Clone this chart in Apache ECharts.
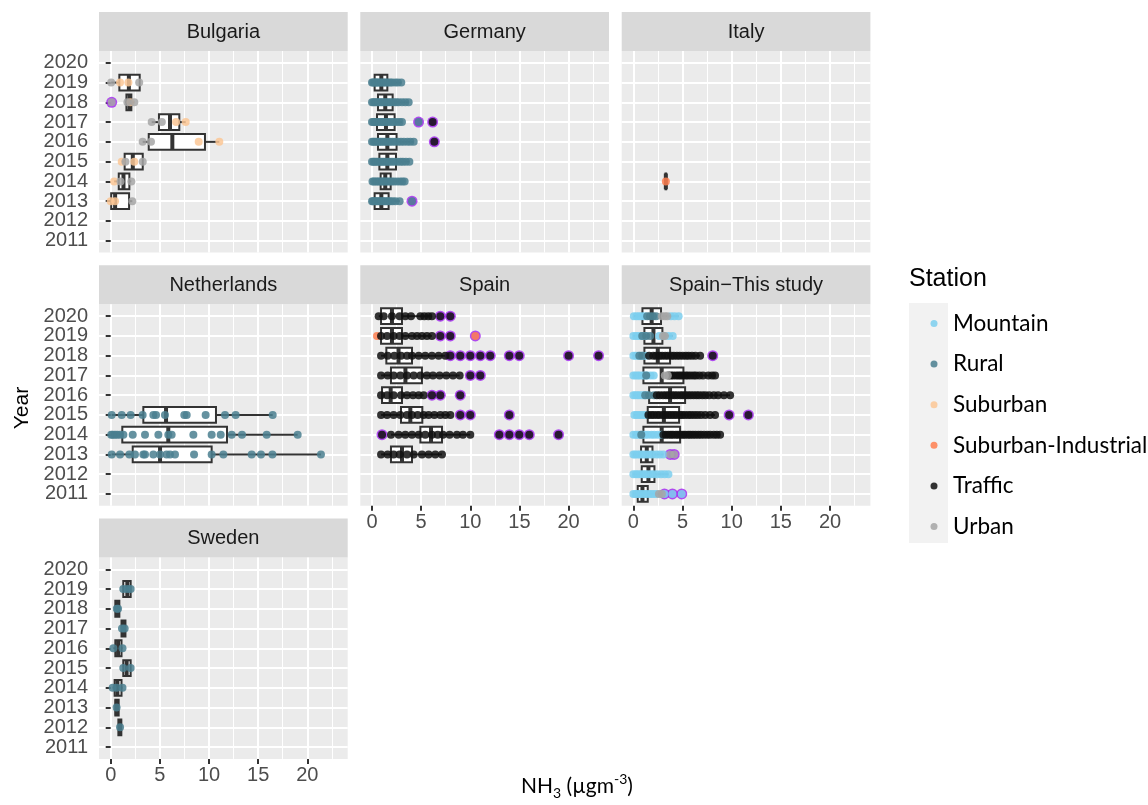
<!DOCTYPE html>
<html>
<head>
<meta charset="utf-8">
<script src="https://cdn.jsdelivr.net/npm/echarts@6/dist/echarts.min.js"></script>
<style>
  html, body { margin: 0; padding: 0; background: #ffffff; }
  #chart { width: 1148px; height: 805px; }
</style>
</head>
<body>
<div id="chart"></div>
<script>
// ---------- axis values ----------
const years = [2011, 2012, 2013, 2014, 2015, 2016, 2017, 2018, 2019, 2020];
const xTicks = [0, 5, 10, 15, 20];
const xMinorTicks = [2.5, 7.5, 12.5, 17.5, 22.5];
const stations = ['Mountain', 'Rural', 'Suburban', 'Suburban-Industrial', 'Traffic', 'Urban'];

// ---------- box statistics: [year, whiskerLow, q1, median, q3, whiskerHigh] ----------
const bulgariaBox = [
  [2019, 0.05, 0.88, 1.85, 2.95, 2.95],
  [2018, 1.5, 1.6, 1.9, 2.1, 2.4],
  [2017, 4.17, 4.91, 6.03, 6.98, 7.63],
  [2016, 3.25, 3.87, 6.27, 9.59, 11.05],
  [2015, 1.12, 1.42, 2.25, 3.26, 3.26],
  [2014, 0.35, 0.82, 1.3, 1.9, 2.1],
  [2013, 0.0, 0.05, 0.45, 1.87, 2.2]
];
const germanyBox = [
  [2019, 0.0, 0.27, 0.95, 1.56, 2.98],
  [2018, 0.0, 0.61, 1.35, 2.1, 3.73],
  [2017, 0.0, 0.51, 1.42, 2.3, 3.05],
  [2016, 0.0, 0.61, 1.56, 2.5, 4.24],
  [2015, 0.0, 0.75, 1.56, 2.44, 3.8],
  [2014, 0.05, 0.88, 1.35, 1.9, 3.32],
  [2013, 0.0, 0.27, 0.95, 1.69, 2.81]
];
const italyBox = [
  [2014, 3.3, 3.27, 3.3, 3.33, 3.3]
];
const netherlandsBox = [
  [2015, 0.1, 3.32, 5.63, 10.71, 16.48],
  [2014, 0.05, 1.18, 5.86, 11.83, 19.02],
  [2013, 0.1, 2.24, 5.02, 10.27, 21.39]
];
const spainBox = [
  [2020, 0.68, 0.92, 2.03, 3.05, 6.1],
  [2019, 0.51, 0.92, 2.03, 3.05, 6.1],
  [2018, 0.92, 1.46, 2.7, 4.07, 7.46],
  [2017, 0.92, 1.93, 3.4, 5.08, 8.92],
  [2016, 0.92, 1.02, 1.9, 3.05, 5.25],
  [2015, 0.92, 2.95, 3.9, 5.12, 7.97],
  [2014, 1.93, 4.92, 6.0, 7.12, 10.0],
  [2013, 0.92, 1.93, 3.05, 4.07, 7.12]
];
const thisStudyBox = [
  [2020, 0.05, 0.92, 1.86, 2.81, 4.6],
  [2019, 0.0, 1.12, 2.04, 2.95, 4.0],
  [2018, 0.0, 1.12, 2.48, 3.73, 6.79],
  [2017, 0.0, 1.02, 2.88, 5.09, 8.31],
  [2016, 0.0, 1.6, 3.73, 5.26, 9.84],
  [2015, 0.1, 1.46, 3.1, 4.65, 8.31],
  [2014, 0.0, 1.02, 2.88, 4.75, 8.82],
  [2013, 0.0, 0.78, 1.36, 1.94, 3.05],
  [2012, 0.0, 0.85, 1.53, 2.14, 3.56],
  [2011, 0.0, 0.44, 0.92, 1.46, 2.9]
];
const swedenBox = [
  [2019, 1.28, 1.28, 1.69, 2.03, 2.03],
  [2018, 0.47, 0.47, 0.68, 0.88, 0.88],
  [2017, 1.1, 1.1, 1.29, 1.5, 1.5],
  [2016, 0.27, 0.47, 0.75, 1.1, 1.2],
  [2015, 1.28, 1.28, 1.62, 2.03, 2.03],
  [2014, 0.2, 0.4, 0.68, 1.1, 1.2],
  [2013, 0.47, 0.47, 0.61, 0.81, 0.81],
  [2012, 0.78, 0.78, 0.95, 1.08, 1.08]
];

// ---------- station measurements: [year, value, value, ...] ----------
const bulgariaUrban = [
  [2019, 0.05, 2.9], [2018, 0.1, 1.7, 2.4], [2017, 4.17, 5.2], [2016, 3.25, 4.1],
  [2015, 1.5, 3.26], [2014, 1.0, 2.1], [2013, 2.2]
];
const bulgariaSuburban = [
  [2019, 0.95, 1.8], [2018, 2.0], [2017, 6.65, 7.63], [2016, 8.95, 11.05],
  [2015, 1.12, 2.4], [2014, 0.35], [2013, 0.0, 0.44]
];
const germanyRural = [
  [2019, 0.0, 0.12, 0.25, 0.38, 0.5, 0.62, 0.8, 0.95, 1.1, 1.28, 1.45, 1.62, 1.85, 2.05, 2.37, 2.64, 2.98],
  [2018, 0.0, 0.15, 0.3, 0.48, 0.65, 0.82, 1.0, 1.18, 1.35, 1.55, 1.75, 1.95, 2.2, 2.45, 2.7, 3.05, 3.39, 3.73],
  [2017, 0.0, 0.14, 0.3, 0.45, 0.6, 0.78, 0.95, 1.12, 1.3, 1.48, 1.7, 1.95, 2.2, 2.5, 2.8, 3.05, 4.74],
  [2016, 0.0, 0.15, 0.32, 0.5, 0.68, 0.85, 1.05, 1.25, 1.45, 1.65, 1.85, 2.1, 2.35, 2.65, 2.95, 3.25, 3.6, 3.9, 4.24],
  [2015, 0.0, 0.15, 0.3, 0.48, 0.66, 0.84, 1.02, 1.2, 1.4, 1.6, 1.8, 2.05, 2.3, 2.6, 2.9, 3.15, 3.45, 3.8],
  [2014, 0.05, 0.2, 0.38, 0.55, 0.72, 0.9, 1.08, 1.25, 1.42, 1.6, 1.8, 2.0, 2.25, 2.55, 2.85, 3.1, 3.32],
  [2013, 0.0, 0.1, 0.22, 0.35, 0.5, 0.65, 0.8, 0.95, 1.1, 1.28, 1.45, 1.65, 1.85, 2.1, 2.4, 2.81, 4.07]
];
const germanyTraffic = [[2017, 6.17], [2016, 6.34]];
const italySuburbanIndustrial = [[2014, 3.3]];
const netherlandsRural = [
  [2015, 0.1, 1.12, 2.03, 3.25, 4.34, 4.61, 5.52, 7.49, 7.73, 9.66, 11.63, 12.71, 16.48],
  [2014, 0.05, 0.2, 0.44, 0.67, 0.95, 1.29, 2.24, 3.49, 4.85, 5.86, 6.2, 8.41, 10.27, 11.19, 12.31, 13.36, 15.87, 19.02],
  [2013, 0.1, 0.95, 1.9, 2.47, 3.32, 3.49, 4.34, 5.02, 5.69, 6.03, 6.54, 8.48, 10.27, 11.46, 14.34, 15.29, 16.45, 21.39]
];
const spainTraffic = [
  [2020, 0.68, 1.19, 2.03, 2.81, 3.39, 3.97, 4.92, 5.32, 5.73, 6.1, 6.95, 7.97],
  [2019, 0.92, 1.53, 2.2, 2.81, 3.39, 4.07, 4.58, 5.08, 5.59, 6.1, 6.95, 7.97],
  [2018, 0.92, 1.59, 2.27, 2.95, 3.56, 4.07, 4.75, 5.42, 6.1, 6.78, 7.46, 7.97, 8.98, 10.0, 11.02, 12.03, 13.97, 14.98, 20.0, 23.05],
  [2017, 0.92, 1.59, 2.2, 2.88, 3.56, 4.24, 4.92, 5.59, 6.2, 6.88, 7.56, 8.24, 8.92, 10.0, 11.02],
  [2016, 0.92, 1.53, 2.2, 2.95, 3.56, 4.17, 4.75, 5.25, 6.1, 6.95, 8.98],
  [2015, 0.92, 1.53, 2.2, 2.88, 3.56, 4.07, 4.65, 5.25, 5.76, 6.34, 6.95, 7.46, 7.97, 8.98, 10.0, 13.97],
  [2014, 1.02, 1.93, 2.71, 3.39, 4.07, 4.75, 5.42, 6.1, 6.68, 7.22, 7.9, 8.64, 9.25, 10.0, 12.95, 13.97, 14.98, 16.0, 18.98],
  [2013, 0.92, 1.59, 2.2, 2.81, 3.56, 4.24, 5.08, 5.76, 6.44, 7.12]
];
const spainSuburbanIndustrial = [[2019, 0.51, 10.51]];
const thisStudyMountain = [
  [2020, 0.05, 0.32, 0.58, 0.83, 1.12, 3.82, 4.18, 4.6],
  [2019, 0.0, 0.27, 0.52, 0.84, 1.19, 2.62, 3.08, 3.57, 4.0],
  [2018, 0.0, 0.22, 0.46, 0.73, 0.98, 1.31],
  [2017, 0.0, 0.21, 0.44, 0.63, 0.91, 1.17, 1.43, 1.76, 2.07],
  [2016, 0.0, 0.19, 0.41, 0.6, 0.86, 1.08, 1.36],
  [2015, 0.1, 0.33, 0.56, 0.79, 1.04, 1.32],
  [2014, 0.0, 0.24, 0.46, 0.71, 0.93, 1.22, 1.48, 1.83, 2.12, 2.47, 2.85],
  [2013, 0.0, 0.18, 0.43, 0.66, 0.88, 1.16, 1.41, 1.72, 1.98, 2.36, 2.69, 3.05],
  [2012, 0.0, 0.26, 0.49, 0.77, 1.02, 1.24, 1.53, 1.81, 2.09, 2.44, 2.82, 3.18, 3.56],
  [2011, 0.0, 0.21, 0.39, 0.62, 0.81, 1.06, 1.29, 1.57, 1.82, 2.08, 2.36, 3.16, 3.97, 4.92]
];
const thisStudyRural = [
  [2020, 1.4, 1.7, 2.0, 2.3], [2019, 0.9, 1.3, 1.7], [2018, 0.6, 0.9],
  [2017, 1.3], [2016, 1.2, 1.6, 2.1], [2014, 0.8]
];
const thisStudyUrban = [
  [2020, 2.9, 3.2, 3.45], [2019, 3.0, 3.2], [2017, 3.2, 3.5], [2013, 3.75, 4.15], [2011, 2.6, 2.9]
];
const thisStudyTraffic = [
  [2018, 1.6, 2.02, 2.31, 2.66, 2.93, 3.24, 3.52, 3.86, 4.12, 4.43, 4.71, 5.03, 5.34, 5.62, 5.96, 6.31, 6.79, 8.07],
  [2017, 3.56, 3.81, 4.04, 4.33, 4.57, 4.79, 5.02, 5.31, 5.54, 5.82, 6.12, 6.36, 6.71, 7.08, 7.62, 8.01, 8.31],
  [2016, 2.38, 2.69, 3.02, 3.31, 3.58, 3.92, 4.19, 4.46, 4.77, 5.01, 5.28, 5.56, 5.83, 6.12, 6.41, 6.68, 7.02, 7.33, 7.71, 8.18, 8.62, 9.21, 9.84],
  [2015, 1.53, 1.82, 2.09, 2.41, 2.68, 3.03, 3.28, 3.57, 3.84, 4.12, 4.39, 4.72, 4.96, 5.24, 5.57, 5.86, 6.19, 6.52, 6.88, 7.31, 7.79, 8.31, 9.74, 11.7],
  [2014, 3.05, 3.29, 3.56, 3.81, 4.03, 4.32, 4.54, 4.82, 5.06, 5.28, 5.57, 5.79, 6.06, 6.32, 6.61, 6.88, 7.19, 7.52, 7.81, 8.18, 8.49, 8.82]
];
const swedenRural = [
  [2019, 1.28, 1.69, 2.03], [2018, 0.62, 0.75], [2017, 1.15, 1.42], [2016, 0.27, 1.2],
  [2015, 1.28, 2.03], [2014, 0.2, 0.61, 1.2], [2013, 0.6], [2012, 0.95]
];

// ---------- panels ----------
const panels = [
  { title: 'Bulgaria', col: 0, row: 0, xLabels: false, box: bulgariaBox,
    points: { Suburban: bulgariaSuburban, Urban: bulgariaUrban } },
  { title: 'Germany', col: 1, row: 0, xLabels: false, box: germanyBox,
    points: { Rural: germanyRural, Traffic: germanyTraffic } },
  { title: 'Italy', col: 2, row: 0, xLabels: false, box: italyBox,
    points: { 'Suburban-Industrial': italySuburbanIndustrial } },
  { title: 'Netherlands', col: 0, row: 1, xLabels: false, box: netherlandsBox,
    points: { Rural: netherlandsRural } },
  { title: 'Spain', col: 1, row: 1, xLabels: true, box: spainBox,
    points: { 'Suburban-Industrial': spainSuburbanIndustrial, Traffic: spainTraffic } },
  { title: 'Spain\u2212This study', col: 2, row: 1, xLabels: true, box: thisStudyBox,
    points: { Mountain: thisStudyMountain, Rural: thisStudyRural, Traffic: thisStudyTraffic, Urban: thisStudyUrban } },
  { title: 'Sweden', col: 0, row: 2, xLabels: true, box: swedenBox,
    points: { Rural: swedenRural } }
];

// ---------- styling & layout ----------
const COLORS = {
  'Mountain': '#7dcfee',
  'Rural': '#4a7f8f',
  'Suburban': '#fcc795',
  'Suburban-Industrial': '#ff7f50',
  'Traffic': '#111111',
  'Urban': '#a6a6a6'
};
const OUTLIER_COLOR = '#a020f0';
const BOX_COLOR = '#333333';
const COL_LEFT = [99, 360.3, 621.7];
const ROW_TOP = [51, 304.3, 557.4];
const PANEL_W = 248.7;
const PANEL_H = 201.5;
const STRIP_H = 39;
const X_MIN = -1.19, X_MAX = 24.11;
const Y_MIN = 2010.4, Y_MAX = 2020.6;
const BOX_HEIGHT = 0.8;
const TICK_FONT = 'Liberation Sans, Arial, sans-serif';
const NOTE_FONT = 'Lato, sans-serif';

// year labels are split over two stacked axes so neighbouring labels never collide
const oddYears = years.filter((y, k) => k % 2 === 0);
const evenYears = years.filter((y, k) => k % 2 === 1);

const grids = [], xAxes = [], yAxes = [], series = [], graphics = [];

function flatten(rows) {
  const out = [];
  rows.forEach(r => { for (let k = 1; k < r.length; k++) out.push([r[k], r[0]]); });
  return out;
}

function yearAxis(gridIndex, show, values) {
  return {
    type: 'value', gridIndex, min: Y_MIN, max: Y_MAX, position: 'left', offset: 0,
    axisLine: { show: false },
    axisTick: { show, customValues: values, length: 5, lineStyle: { color: BOX_COLOR, width: 2 } },
    axisLabel: { show, customValues: values, margin: 11, color: '#4d4d4d', fontSize: 20,
      fontFamily: TICK_FONT, formatter: v => String(v), showMinLabel: true, showMaxLabel: true },
    splitLine: { show: true, lineStyle: { color: '#ffffff', width: 2 } }
  };
}

panels.forEach((p, i) => {
  const left = COL_LEFT[p.col], top = ROW_TOP[p.row];
  const showY = p.col === 0;
  grids.push({ left, top, width: PANEL_W, height: PANEL_H, show: true,
    backgroundColor: '#ebebeb', borderWidth: 0 });

  xAxes.push({
    type: 'value', gridIndex: i, min: X_MIN, max: X_MAX, position: 'bottom',
    axisLine: { show: false },
    axisTick: { show: p.xLabels, customValues: xTicks, length: 5, lineStyle: { color: BOX_COLOR, width: 2 } },
    axisLabel: { show: p.xLabels, customValues: xTicks, margin: 7, color: '#4d4d4d', fontSize: 20,
      fontFamily: TICK_FONT, formatter: v => String(v), showMinLabel: true, showMaxLabel: true },
    splitLine: { show: true, lineStyle: { color: '#ffffff', width: 2 } }
  });
  xAxes.push({
    type: 'value', gridIndex: i, min: X_MIN, max: X_MAX, position: 'top',
    axisLine: { show: false },
    axisTick: { show: false, customValues: xMinorTicks },
    axisLabel: { show: false, customValues: xMinorTicks },
    splitLine: { show: true, lineStyle: { color: '#ffffff', width: 1 } }
  });
  yAxes.push(yearAxis(i, showY, oddYears));
  yAxes.push(yearAxis(i, showY, evenYears));

  const xi = 2 * i, yi = 2 * i;

  // facet strip
  graphics.push({ type: 'rect', shape: { x: left, y: top - STRIP_H, width: PANEL_W, height: STRIP_H },
    style: { fill: '#d9d9d9' }, silent: true });
  graphics.push({ type: 'text', x: left + PANEL_W / 2, y: top - STRIP_H / 2 + 0.5, silent: true,
    style: { text: p.title, fill: '#1a1a1a', fontSize: 20, fontFamily: TICK_FONT,
      align: 'center', verticalAlign: 'middle' } });

  // boxes
  series.push({
    type: 'custom', xAxisIndex: xi, yAxisIndex: yi, z: 2, silent: true,
    data: p.box, encode: { x: [1, 2, 3, 4, 5], y: 0 },
    renderItem: (params, api) => {
      const yr = api.value(0);
      const lo = api.coord([api.value(1), yr]);
      const q1 = api.coord([api.value(2), yr]);
      const md = api.coord([api.value(3), yr]);
      const q3 = api.coord([api.value(4), yr]);
      const hi = api.coord([api.value(5), yr]);
      const h = api.size([0, BOX_HEIGHT])[1];
      const yc = md[1];
      const line = { stroke: BOX_COLOR, lineWidth: 2 };
      return { type: 'group', children: [
        { type: 'line', shape: { x1: lo[0], y1: yc, x2: q1[0], y2: yc }, style: line },
        { type: 'line', shape: { x1: q3[0], y1: yc, x2: hi[0], y2: yc }, style: line },
        { type: 'rect', shape: { x: q1[0], y: yc - h / 2, width: q3[0] - q1[0], height: h },
          style: { fill: '#ffffff', stroke: BOX_COLOR, lineWidth: 2 } },
        { type: 'line', shape: { x1: md[0], y1: yc - h / 2, x2: md[0], y2: yc + h / 2 },
          style: { stroke: BOX_COLOR, lineWidth: 4 } }
      ] };
    }
  });

  // outliers: measurements beyond the whiskers
  const whisk = {};
  p.box.forEach(b => { whisk[b[0]] = [b[1], b[5]]; });
  const outliers = [];
  Object.keys(p.points).forEach(st => {
    flatten(p.points[st]).forEach(d => {
      const w = whisk[d[1]];
      if (w && (d[0] < w[0] - 1e-9 || d[0] > w[1] + 1e-9)) outliers.push(d);
    });
  });
  series.push({ type: 'scatter', xAxisIndex: xi, yAxisIndex: yi, z: 3, silent: true,
    symbol: 'circle', symbolSize: 11, data: outliers, itemStyle: { color: OUTLIER_COLOR } });

  // measurements
  Object.keys(p.points).forEach(st => {
    series.push({ type: 'scatter', name: st, xAxisIndex: xi, yAxisIndex: yi, z: 4, silent: true,
      symbol: 'circle', symbolSize: 8, data: flatten(p.points[st]),
      itemStyle: { color: COLORS[st], opacity: 0.85 } });
  });
});

// legend key background, titles
graphics.push({ type: 'rect', shape: { x: 909, y: 303, width: 39, height: 240 },
  style: { fill: '#f2f2f2' }, silent: true, z: -1 });
graphics.push({ type: 'text', x: 909, y: 279, silent: true,
  style: { text: 'Station', fill: '#000000', fontSize: 25, fontFamily: TICK_FONT,
    align: 'left', verticalAlign: 'middle' } });
graphics.push({ type: 'text', x: 22, y: 408, rotation: Math.PI / 2, silent: true,
  style: { text: 'Year', fill: '#000000', fontSize: 21, fontFamily: TICK_FONT,
    align: 'center', verticalAlign: 'middle' } });
graphics.push({ type: 'text', x: 521, y: 786, silent: true,
  style: {
    text: '{n|NH}{s|3}{n| (\u00b5gm}{p|-3}{n|)}',
    align: 'left', verticalAlign: 'middle',
    rich: {
      n: { fontSize: 21, fontFamily: NOTE_FONT, fill: '#000000', lineHeight: 28 },
      s: { fontSize: 14, fontFamily: NOTE_FONT, fill: '#000000', lineHeight: 28, verticalAlign: 'bottom' },
      p: { fontSize: 14, fontFamily: NOTE_FONT, fill: '#000000', lineHeight: 28, verticalAlign: 'top' }
    }
  } });

const chart = echarts.init(document.getElementById('chart'), null, { renderer: 'canvas' });
chart.setOption({
  animation: false,
  backgroundColor: '#ffffff',
  grid: grids,
  xAxis: xAxes,
  yAxis: yAxes,
  legend: {
    data: stations, orient: 'vertical', left: 925.5, top: 305.5,
    itemWidth: 7, itemHeight: 7, itemGap: 14.6, icon: 'circle', selectedMode: false,
    textStyle: { fontFamily: NOTE_FONT, fontSize: 22.5, color: '#000000', lineHeight: 26,
      padding: [0, 0, 0, 10.5] }
  },
  graphic: graphics,
  series
});
</script>
</body>
</html>
